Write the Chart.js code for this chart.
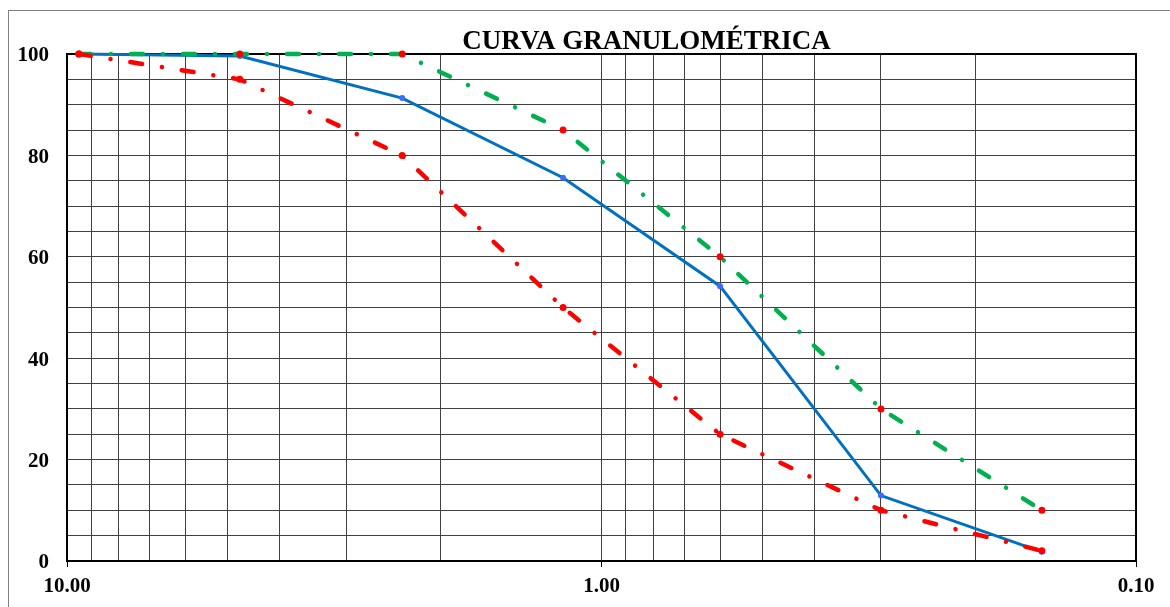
<!DOCTYPE html>
<html>
<head>
<meta charset="utf-8">
<script src="https://cdn.jsdelivr.net/npm/chart.js@4.4.1/dist/chart.umd.min.js"></script>
<style>
  body { margin: 0; background: #fff; }
  #wrap { width: 1170px; height: 607px; position: relative; }
</style>
</head>
<body>
<div id="wrap"><canvas id="chart"></canvas></div>
<script>
// sieve openings (mm) and % passing
const sizes = [9.5, 4.75, 2.36, 1.18, 0.6, 0.3, 0.15];
const passing = [100, 99.6, 91.3, 75.6, 54.2, 12.9, 1.8];
const upperLimit = [100, 100, 100, 85, 60, 30, 10];
const lowerLimit = [100, 95, 80, 50, 25, 10, 2];

// axis ticks
const xTicks = [10, 9, 8, 7, 6, 5, 4, 3, 2, 1, 0.9, 0.8, 0.7, 0.6, 0.5, 0.4, 0.3, 0.2, 0.1];
const xLabels = [10, 1, 0.1];
const yLabels = [0, 20, 40, 60, 80, 100];

const toPoints = (vals) => sizes.map((s, i) => ({ x: s, y: vals[i] }));

const font = { family: 'Liberation Serif', weight: 'bold', size: 21 };

const frame = {
    id: 'frame',
    beforeDraw(c) {
        const ctx = c.ctx;
        ctx.save();
        ctx.fillStyle = '#fff';
        ctx.fillRect(0, 0, c.width, c.height);
        ctx.strokeStyle = '#808080';
        ctx.lineWidth = 1;
        ctx.strokeRect(8.5, 10.5, 1170, 600);
        ctx.restore();
    },
    beforeDatasetsDraw(c) {
        const a = c.chartArea;
        const ctx = c.ctx;
        ctx.save();
        ctx.strokeStyle = '#000';
        ctx.lineWidth = 2;
        ctx.strokeRect(a.left, a.top, a.right - a.left, a.bottom - a.top);
        ctx.restore();
    },
    afterDraw(c) {
        const a = c.chartArea;
        const ctx = c.ctx;
        ctx.save();
        ctx.fillStyle = '#000';
        ctx.font = 'bold 27px "Liberation Serif"';
        ctx.textAlign = 'center';
        ctx.textBaseline = 'alphabetic';
        ctx.fillText('CURVA GRANULOMÉTRICA', (a.left + a.right) / 2 + 45, a.top - 5);
        ctx.restore();
    }
};

new Chart(document.querySelector('#chart'), {
    type: 'line',
    data: {
        datasets: [
            {
                label: 'Límite inferior',
                data: toPoints(lowerLimit),
                borderColor: '#ff0000',
                borderWidth: 4.5,
                borderDash: [12, 20, 0.01, 20],
                borderCapStyle: 'round',
                pointRadius: 3.5,
                pointBackgroundColor: '#ff0000',
                pointBorderWidth: 0,
                clip: false
            },
            {
                label: 'Límite superior',
                data: toPoints(upperLimit),
                borderColor: '#00b050',
                borderWidth: 4.5,
                borderDash: [12, 20, 0.01, 20],
                borderCapStyle: 'round',
                pointRadius: 3.5,
                pointBackgroundColor: '#ff0000',
                pointBorderWidth: 0,
                clip: false
            },
            {
                label: 'Muestra',
                data: toPoints(passing),
                borderColor: '#0070c0',
                borderWidth: 3,
                pointRadius: 3,
                pointBackgroundColor: '#3d6bff',
                pointBorderWidth: 0,
                clip: false
            }
        ]
    },
    options: {
        responsive: true,
        maintainAspectRatio: false,
        animation: false,
        layout: { padding: { top: 54, right: 34, left: 0, bottom: 0 } },
        plugins: {
            legend: { display: false },
            tooltip: { enabled: false }
        },
        scales: {
            x: {
                type: 'logarithmic',
                min: 0.1,
                max: 10,
                reverse: true,
                afterBuildTicks: (scale) => {
                    scale.ticks = xTicks.map(v => ({ value: v }));
                },
                afterFit: (scale) => { scale.height = 46; },
                grid: {
                    color: '#404040',
                    lineWidth: 1,
                    tickLength: 6,
                    tickColor: (ctx) => ctx.tick && xLabels.includes(ctx.tick.value) ? '#000' : 'rgba(0,0,0,0)'
                },
                border: { color: '#000', width: 2 },
                ticks: {
                    autoSkip: false,
                    maxRotation: 0,
                    padding: 7,
                    color: '#000',
                    font: font,
                    callback: (v) => xLabels.includes(v) ? Number(v).toFixed(2) : ''
                }
            },
            y: {
                min: 0,
                max: 100,
                afterFit: (scale) => { scale.width = 67; },
                grid: { color: '#404040', lineWidth: 1, drawTicks: false },
                border: { color: '#000', width: 2 },
                ticks: {
                    stepSize: 5,
                    autoSkip: false,
                    padding: 18,
                    labelOffset: 2,
                    color: '#000',
                    font: font,
                    callback: (v) => yLabels.includes(v) ? v : ''
                }
            }
        }
    },
    plugins: [frame]
});
</script>
</body>
</html>
